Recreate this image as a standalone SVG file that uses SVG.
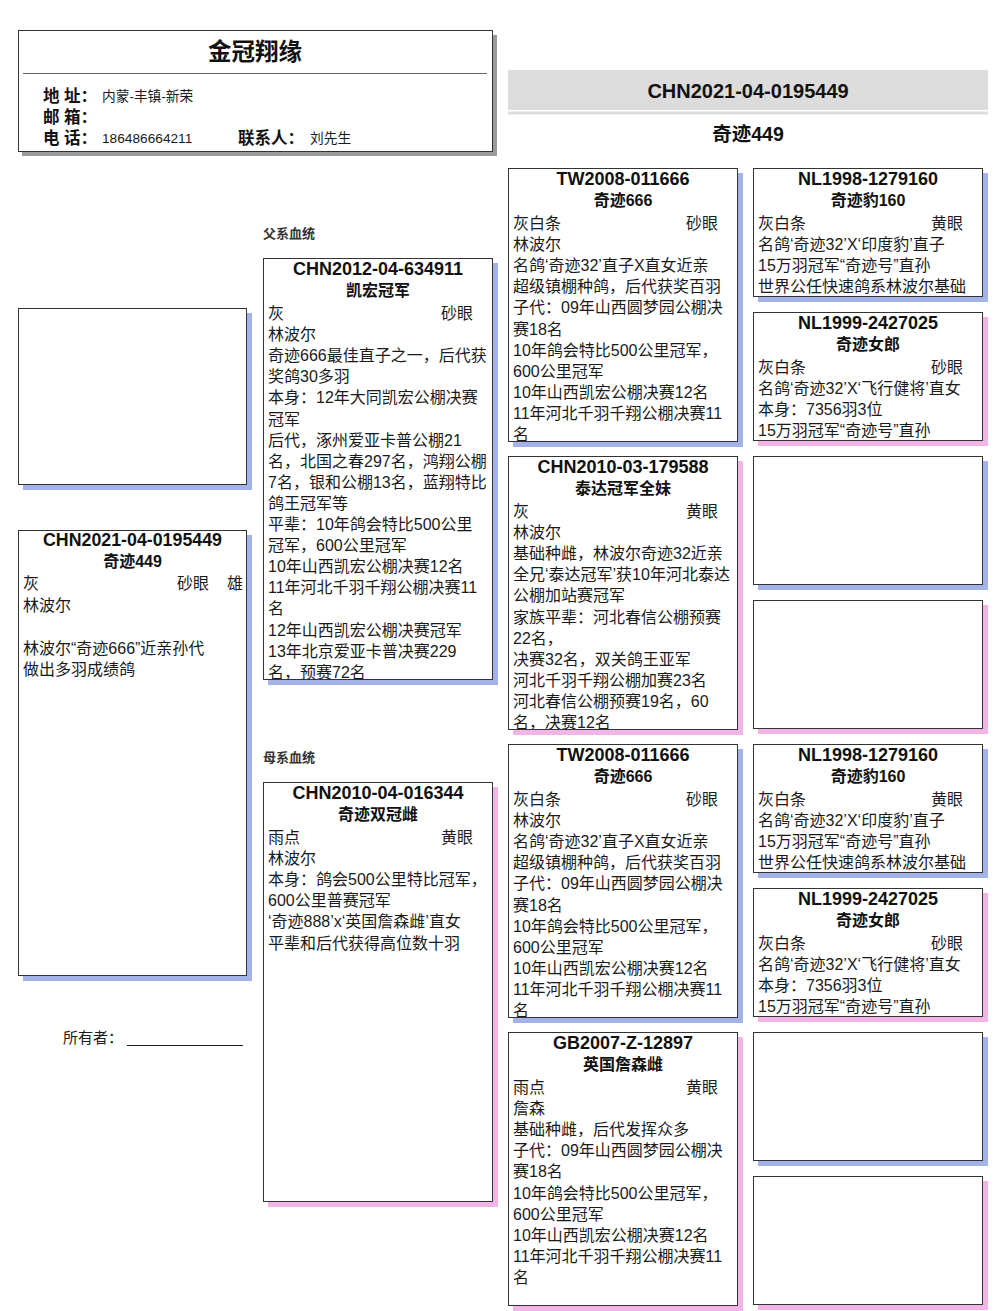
<svg xmlns="http://www.w3.org/2000/svg" width="1006" height="1311" viewBox="0 0 1006 1311">
<style>
text{font-family:"Liberation Sans","Noto Sans CJK SC",sans-serif;fill:#1a1a1a}
.box{fill:#fff;stroke:#333;stroke-width:1}
.sb{fill:#a3b3ea}
.sp{fill:#f3b5e8}
.sg{fill:#9a9a9a}
.t{font-size:18px;font-weight:bold;text-anchor:middle;fill:#111}
.n{font-size:16px;font-weight:bold;text-anchor:middle;fill:#111}
.b{font-size:16px}
.lb{font-size:16.5px;font-weight:bold;fill:#111}
.v{font-size:13.7px}
.sec{font-size:13px;font-weight:bold;fill:#333}
</style>
<defs>
<clipPath id="cT"><rect x="1" y="1" width="228" height="273"/></clipPath>
<clipPath id="cS"><rect x="1" y="1" width="228" height="421"/></clipPath>
</defs>
<rect width="1006" height="1311" fill="#fff"/>

<g id="header">
<rect class="sg" x="22" y="35" width="475" height="121"/>
<rect class="box" x="18.5" y="30.5" width="474" height="121"/>
<text x="255" y="60" style="font-size:23.5px;font-weight:bold;text-anchor:middle;fill:#111">金冠翔缘</text>
<line x1="23" y1="73.5" x2="487" y2="73.5" stroke="#666" stroke-width="1"/>
<text class="lb" x="43" y="102">地 址：</text><text class="v" x="102" y="101">内蒙-丰镇-新荣</text>
<text class="lb" x="43" y="123">邮 箱：</text>
<text class="lb" x="43" y="144">电 话：</text><text class="v" x="102" y="143">186486664211</text>
<text class="lb" x="238" y="144">联系人：</text><text class="v" x="310" y="143">刘先生</text>
</g>

<g id="title-bar">
<rect x="508" y="70" width="480" height="40" fill="#dcdcdc"/>
<rect x="508" y="111.5" width="480" height="3" fill="#dcdcdc"/>
<text x="748" y="97.5" style="font-size:20px;font-weight:bold;text-anchor:middle;fill:#111">CHN2021-04-0195449</text>
<text x="748" y="141" style="font-size:19.5px;font-weight:bold;text-anchor:middle;fill:#111">奇迹449</text>
</g>

<g id="photo">
<rect class="sb" x="23" y="313" width="229" height="177"/>
<rect class="box" x="18.5" y="308.5" width="228" height="176"/>
</g>

<g id="bird" transform="translate(18,530)">
<rect class="sb" x="5" y="5" width="229" height="446"/>
<rect class="box" x="0.5" y="0.5" width="228" height="445"/>
<text class="t" x="114.5" y="15.5" style="font-size:17.8px">CHN2021-04-0195449</text>
<text class="n" x="114.5" y="37">奇迹449</text>
<text class="b" x="5" y="59">灰</text><text class="b" x="159" y="59">砂眼</text><text class="b" x="209" y="59">雄</text>
<text class="b" x="5" y="81">林波尔</text>
<text class="b" x="5" y="124">林波尔“奇迹666”近亲孙代</text>
<text class="b" x="5" y="145">做出多羽成绩鸽</text>
</g>

<g id="owner">
<text x="63" y="1043" style="font-size:15px">所有者：</text>
<line x1="127" y1="1045.5" x2="243" y2="1045.5" stroke="#222" stroke-width="1"/>
</g>

<text class="sec" x="263" y="238">父系血统</text>
<text class="sec" x="263" y="762">母系血统</text>

<g id="sire" transform="translate(263,258)">
<rect class="sb" x="5" y="5" width="230" height="422"/>
<rect class="box" x="0.5" y="0.5" width="229" height="421"/>
<g clip-path="url(#cS)">
<text class="t" x="115" y="16.5">CHN2012-04-634911</text>
<text class="n" x="115" y="38">凯宏冠军</text>
<text class="b" x="5" y="61">灰</text><text class="b" x="178" y="61">砂眼</text>
<text class="b" x="5" y="82.1">林波尔</text>
<text class="b" x="5" y="103.2">奇迹666最佳直子之一，后代获</text>
<text class="b" x="5" y="124.3">奖鸽30多羽</text>
<text class="b" x="5" y="145.4">本身：12年大同凯宏公棚决赛</text>
<text class="b" x="5" y="166.5">冠军</text>
<text class="b" x="5" y="187.6">后代，涿州爱亚卡普公棚21</text>
<text class="b" x="5" y="208.7">名，北国之春297名，鸿翔公棚</text>
<text class="b" x="5" y="229.8">7名，银和公棚13名，蓝翔特比</text>
<text class="b" x="5" y="250.9">鸽王冠军等</text>
<text class="b" x="5" y="272">平辈：10年鸽会特比500公里</text>
<text class="b" x="5" y="293.1">冠军，600公里冠军</text>
<text class="b" x="5" y="314.2">10年山西凯宏公棚决赛12名</text>
<text class="b" x="5" y="335.3">11年河北千羽千翔公棚决赛11</text>
<text class="b" x="5" y="356.4">名</text>
<text class="b" x="5" y="377.5">12年山西凯宏公棚决赛冠军</text>
<text class="b" x="5" y="398.6">13年北京爱亚卡普决赛229</text>
<text class="b" x="5" y="419.7">名，预赛72名</text>
</g>
<rect x="0.5" y="0.5" width="229" height="421" fill="none" stroke="#333"/>
</g>

<g id="dam" transform="translate(263,782)">
<rect class="sp" x="5" y="5" width="230" height="420"/>
<rect class="box" x="0.5" y="0.5" width="229" height="419"/>
<text class="t" x="115" y="16.5">CHN2010-04-016344</text>
<text class="n" x="115" y="38">奇迹双冠雌</text>
<text class="b" x="5" y="61">雨点</text><text class="b" x="178" y="61">黄眼</text>
<text class="b" x="5" y="82.1">林波尔</text>
<text class="b" x="5" y="103.2">本身：鸽会500公里特比冠军，</text>
<text class="b" x="5" y="124.3">600公里普赛冠军</text>
<text class="b" x="5" y="145.4">‘奇迹888’x‘英国詹森雌’直女</text>
<text class="b" x="5" y="166.5">平辈和后代获得高位数十羽</text>
</g>

<g id="ss" transform="translate(508,168)">
<rect class="sb" x="5" y="5" width="230" height="274"/>
<rect class="box" x="0.5" y="0.5" width="229" height="273"/>
<g clip-path="url(#cT)">
<text class="t" x="115" y="16.5">TW2008-011666</text>
<text class="n" x="115" y="38">奇迹666</text>
<text class="b" x="5" y="61">灰白条</text><text class="b" x="178" y="61">砂眼</text>
<text class="b" x="5" y="82.1">林波尔</text>
<text class="b" x="5" y="103.2">名鸽‘奇迹32’直子X直女近亲</text>
<text class="b" x="5" y="124.3">超级镇棚种鸽，后代获奖百羽</text>
<text class="b" x="5" y="145.4">子代：09年山西圆梦园公棚决</text>
<text class="b" x="5" y="166.5">赛18名</text>
<text class="b" x="5" y="187.6">10年鸽会特比500公里冠军，</text>
<text class="b" x="5" y="208.7">600公里冠军</text>
<text class="b" x="5" y="229.8">10年山西凯宏公棚决赛12名</text>
<text class="b" x="5" y="250.9">11年河北千羽千翔公棚决赛11</text>
<text class="b" x="5" y="272">名</text>
</g>
<rect x="0.5" y="0.5" width="229" height="273" fill="none" stroke="#333"/>
</g>

<g id="sd" transform="translate(508,456)">
<rect class="sp" x="5" y="5" width="230" height="274"/>
<rect class="box" x="0.5" y="0.5" width="229" height="273"/>
<g clip-path="url(#cT)">
<text class="t" x="115" y="16.5">CHN2010-03-179588</text>
<text class="n" x="115" y="38">泰达冠军全妹</text>
<text class="b" x="5" y="61">灰</text><text class="b" x="178" y="61">黄眼</text>
<text class="b" x="5" y="82.1">林波尔</text>
<text class="b" x="5" y="103.2">基础种雌，林波尔奇迹32近亲</text>
<text class="b" x="5" y="124.3">全兄‘泰达冠军’获10年河北泰达</text>
<text class="b" x="5" y="145.4">公棚加站赛冠军</text>
<text class="b" x="5" y="166.5">家族平辈：河北春信公棚预赛</text>
<text class="b" x="5" y="187.6">22名，</text>
<text class="b" x="5" y="208.7">决赛32名，双关鸽王亚军</text>
<text class="b" x="5" y="229.8">河北千羽千翔公棚加赛23名</text>
<text class="b" x="5" y="250.9">河北春信公棚预赛19名，60</text>
<text class="b" x="5" y="272">名，决赛12名</text>
</g>
<rect x="0.5" y="0.5" width="229" height="273" fill="none" stroke="#333"/>
</g>

<g id="ds" transform="translate(508,744)">
<rect class="sb" x="5" y="5" width="230" height="274"/>
<rect class="box" x="0.5" y="0.5" width="229" height="273"/>
<g clip-path="url(#cT)">
<text class="t" x="115" y="16.5">TW2008-011666</text>
<text class="n" x="115" y="38">奇迹666</text>
<text class="b" x="5" y="61">灰白条</text><text class="b" x="178" y="61">砂眼</text>
<text class="b" x="5" y="82.1">林波尔</text>
<text class="b" x="5" y="103.2">名鸽‘奇迹32’直子X直女近亲</text>
<text class="b" x="5" y="124.3">超级镇棚种鸽，后代获奖百羽</text>
<text class="b" x="5" y="145.4">子代：09年山西圆梦园公棚决</text>
<text class="b" x="5" y="166.5">赛18名</text>
<text class="b" x="5" y="187.6">10年鸽会特比500公里冠军，</text>
<text class="b" x="5" y="208.7">600公里冠军</text>
<text class="b" x="5" y="229.8">10年山西凯宏公棚决赛12名</text>
<text class="b" x="5" y="250.9">11年河北千羽千翔公棚决赛11</text>
<text class="b" x="5" y="272">名</text>
</g>
<rect x="0.5" y="0.5" width="229" height="273" fill="none" stroke="#333"/>
</g>

<g id="dd" transform="translate(508,1032)">
<rect class="sp" x="5" y="5" width="230" height="274"/>
<rect class="box" x="0.5" y="0.5" width="229" height="273"/>
<g clip-path="url(#cT)">
<text class="t" x="115" y="16.5">GB2007-Z-12897</text>
<text class="n" x="115" y="38">英国詹森雌</text>
<text class="b" x="5" y="61">雨点</text><text class="b" x="178" y="61">黄眼</text>
<text class="b" x="5" y="82.1">詹森</text>
<text class="b" x="5" y="103.2">基础种雌，后代发挥众多</text>
<text class="b" x="5" y="124.3">子代：09年山西圆梦园公棚决</text>
<text class="b" x="5" y="145.4">赛18名</text>
<text class="b" x="5" y="166.5">10年鸽会特比500公里冠军，</text>
<text class="b" x="5" y="187.6">600公里冠军</text>
<text class="b" x="5" y="208.7">10年山西凯宏公棚决赛12名</text>
<text class="b" x="5" y="229.8">11年河北千羽千翔公棚决赛11</text>
<text class="b" x="5" y="250.9">名</text>
</g>
</g>

<g id="sss" transform="translate(753,168)">
<rect class="sb" x="5" y="5" width="230" height="129"/>
<rect class="box" x="0.5" y="0.5" width="229" height="128"/>
<text class="t" x="115" y="16.5">NL1998-1279160</text>
<text class="n" x="115" y="38">奇迹豹160</text>
<text class="b" x="5" y="61">灰白条</text><text class="b" x="178" y="61">黄眼</text>
<text class="b" x="5" y="82.1">名鸽‘奇迹32’X‘印度豹’直子</text>
<text class="b" x="5" y="103.2">15万羽冠军“奇迹号”直孙</text>
<text class="b" x="5" y="124.3">世界公任快速鸽系林波尔基础</text>
</g>

<g id="ssd" transform="translate(753,312)">
<rect class="sp" x="5" y="5" width="230" height="129"/>
<rect class="box" x="0.5" y="0.5" width="229" height="128"/>
<text class="t" x="115" y="16.5">NL1999-2427025</text>
<text class="n" x="115" y="38">奇迹女郎</text>
<text class="b" x="5" y="61">灰白条</text><text class="b" x="178" y="61">砂眼</text>
<text class="b" x="5" y="82.1">名鸽‘奇迹32’X‘飞行健将’直女</text>
<text class="b" x="5" y="103.2">本身：7356羽3位</text>
<text class="b" x="5" y="124.3">15万羽冠军“奇迹号”直孙</text>
</g>

<g id="sds" transform="translate(753,456)">
<rect class="sb" x="5" y="5" width="230" height="129"/>
<rect class="box" x="0.5" y="0.5" width="229" height="128"/>
</g>

<g id="sdd" transform="translate(753,600)">
<rect class="sp" x="5" y="5" width="230" height="129"/>
<rect class="box" x="0.5" y="0.5" width="229" height="128"/>
</g>

<g id="dss" transform="translate(753,744)">
<rect class="sb" x="5" y="5" width="230" height="129"/>
<rect class="box" x="0.5" y="0.5" width="229" height="128"/>
<text class="t" x="115" y="16.5">NL1998-1279160</text>
<text class="n" x="115" y="38">奇迹豹160</text>
<text class="b" x="5" y="61">灰白条</text><text class="b" x="178" y="61">黄眼</text>
<text class="b" x="5" y="82.1">名鸽‘奇迹32’X‘印度豹’直子</text>
<text class="b" x="5" y="103.2">15万羽冠军“奇迹号”直孙</text>
<text class="b" x="5" y="124.3">世界公任快速鸽系林波尔基础</text>
</g>

<g id="dsd" transform="translate(753,888)">
<rect class="sp" x="5" y="5" width="230" height="129"/>
<rect class="box" x="0.5" y="0.5" width="229" height="128"/>
<text class="t" x="115" y="16.5">NL1999-2427025</text>
<text class="n" x="115" y="38">奇迹女郎</text>
<text class="b" x="5" y="61">灰白条</text><text class="b" x="178" y="61">砂眼</text>
<text class="b" x="5" y="82.1">名鸽‘奇迹32’X‘飞行健将’直女</text>
<text class="b" x="5" y="103.2">本身：7356羽3位</text>
<text class="b" x="5" y="124.3">15万羽冠军“奇迹号”直孙</text>
</g>

<g id="dds" transform="translate(753,1032)">
<rect class="sb" x="5" y="5" width="230" height="129"/>
<rect class="box" x="0.5" y="0.5" width="229" height="128"/>
</g>

<g id="ddd" transform="translate(753,1176)">
<rect class="sp" x="5" y="5" width="230" height="129"/>
<rect class="box" x="0.5" y="0.5" width="229" height="128"/>
</g>

<g id="connectors"/>
</svg>
